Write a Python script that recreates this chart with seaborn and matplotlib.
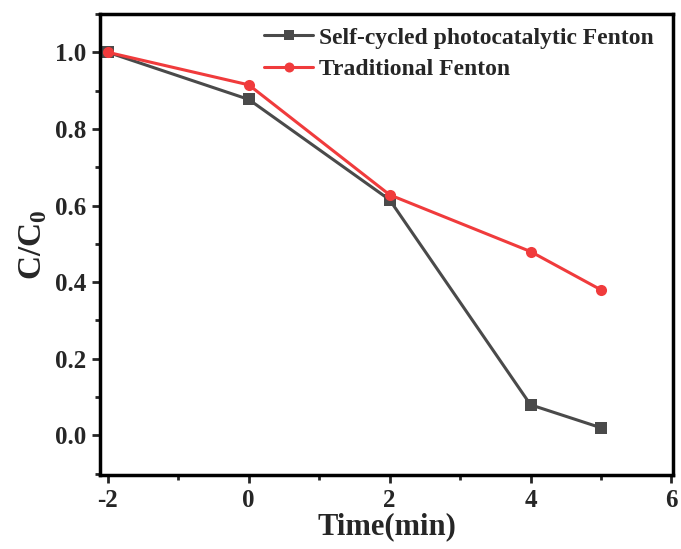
import matplotlib
matplotlib.use("Agg")
import matplotlib.pyplot as plt
import seaborn as sns
import pandas as pd
from matplotlib.ticker import MultipleLocator

time = [-2, 0, 2, 4, 5]
self_cycled = [1.0, 0.877, 0.615, 0.08, 0.02]
traditional = [1.0, 0.915, 0.628, 0.48, 0.38]
labels = ["Self-cycled photocatalytic Fenton", "Traditional Fenton"]
yticks = [0.0, 0.2, 0.4, 0.6, 0.8, 1.0]
ytick_labels = ["0.0", "0.2", "0.4", "0.6", "0.8", "1.0"]

df = pd.DataFrame({
    "Time": time * 2,
    "C": self_cycled + traditional,
    "Series": [labels[0]] * len(time) + [labels[1]] * len(time),
})

sns.set_style("ticks")
plt.rcParams['font.family'] = ['Liberation Serif', 'DejaVu Serif']
plt.rcParams['font.weight'] = 'bold'
plt.rcParams['axes.unicode_minus'] = False
plt.rcParams['mathtext.fontset'] = 'custom'
plt.rcParams['mathtext.rm'] = 'Liberation Serif:bold'
plt.rcParams['mathtext.bf'] = 'Liberation Serif:bold'

fig = plt.figure(figsize=(6.81, 5.49), dpi=100)
ax = fig.add_axes([0.147, 0.135, 0.841, 0.8395])

palette = {labels[0]: "#4a4a4a", labels[1]: "#f03b3c"}
sns.lineplot(data=df, x="Time", y="C", hue="Series", style="Series",
             markers={labels[0]: "s", labels[1]: "o"}, dashes=False,
             palette=palette, linewidth=2.2, markersize=8, markeredgewidth=0,
             ax=ax)

ax.set_xlim(-2.11, 6.02)
ax.set_ylim(-0.103, 1.1)
ax.xaxis.set_major_locator(MultipleLocator(2))
ax.xaxis.set_minor_locator(MultipleLocator(1))
ax.yaxis.set_minor_locator(MultipleLocator(0.1))
ax.set_yticks(yticks)
ax.set_yticklabels(ytick_labels)
ax.tick_params(which='major', direction='out', length=6, width=2, labelsize=18, pad=4)
ax.tick_params(which='minor', direction='out', length=3.5, width=2)
for lab in ax.get_xticklabels() + ax.get_yticklabels():
    lab.set_fontweight('bold')
for sp in ax.spines.values():
    sp.set_linewidth(2.5)
    sp.set_color('black')

ax.set_xlabel("Time(min)", fontsize=22, fontweight='bold', labelpad=0)
ax.set_ylabel(r"C/C$_\mathbf{0}$", fontsize=24, fontweight='bold', labelpad=4)

leg = ax.legend(loc='upper right', bbox_to_anchor=(0.99, 1.0), frameon=False,
                handlelength=2.1, borderaxespad=0.25, handletextpad=0.25,
                labelspacing=0.42, markerscale=0.9, borderpad=0.3,
                prop={'weight': 'bold', 'size': 17})

fig.savefig("out.png", dpi=100)
